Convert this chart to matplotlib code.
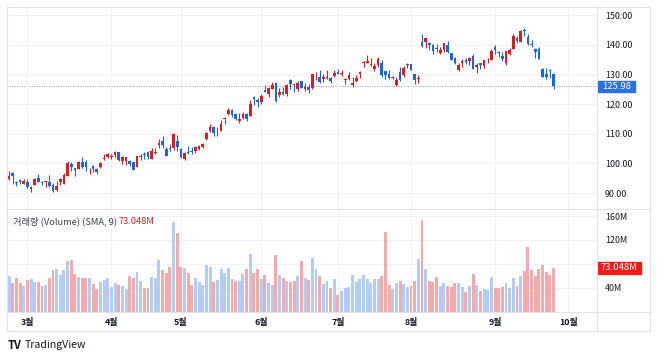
import numpy as np
import pandas as pd
import matplotlib
matplotlib.use("Agg")
import matplotlib.pyplot as plt
from matplotlib.lines import Line2D
from matplotlib.patches import Rectangle
import matplotlib.transforms as mtransforms

plt.rcParams['font.family'] = ['Noto Sans CJK KR', 'DejaVu Sans']

# daily bars, 2023-02-22 .. 2023-09-26 (price, volume in millions)
holidays = ["2023-04-07", "2023-05-29", "2023-06-19", "2023-07-04", "2023-09-04"]

feb_o = [94.66, 96.94, 93.53, 94.28, 93.14]
feb_h = [97.34, 97.01, 94.14, 94.78, 94.69]
feb_l = [94.36, 93.04, 92.32, 93.14, 92.92]
feb_c = [95.79, 95.82, 93.50, 93.76, 94.23]
feb_v = [60, 48, 57, 47, 43]

mar_o = [93.87, 91.41, 92.74, 95.19, 93.72, 93.60, 93.68, 92.67, 90.90, 93.83, 93.22, 95.75,
         99.79, 98.41, 98.14, 100.45, 100.43, 98.07, 99.07, 98.11, 98.69, 101.55, 102.16]
mar_h = [94.68, 92.23, 94.95, 96.55, 94.12, 94.17, 96.21, 93.57, 94.02, 95.07, 96.67, 100.99,
         100.66, 98.48, 100.85, 102.10, 101.06, 98.30, 99.34, 98.44, 100.42, 103.04, 103.49]
mar_l = [91.59, 90.39, 92.66, 93.74, 92.64, 92.18, 92.18, 90.25, 90.60, 92.71, 93.07, 95.61,
         97.46, 95.70, 98.00, 98.61, 97.62, 96.40, 97.08, 96.29, 98.56, 101.01, 101.95]
mar_c = [92.17, 92.13, 94.90, 93.75, 93.55, 93.92, 92.25, 90.73, 92.43, 94.88, 96.20, 100.04,
         98.95, 97.71, 100.61, 98.70, 98.71, 98.13, 98.04, 97.24, 100.25, 102.00, 103.29]
mar_v = [53, 55, 50, 49, 43, 45, 56, 69, 72, 61, 70, 85, 87, 63, 58, 57, 57, 56, 46, 38, 49, 53, 56]

apr_o = [102.30, 102.75, 103.91, 100.75, 100.96, 100.80, 100.40, 98.95, 102.07, 103.16, 103.95,
         101.58, 103.53, 106.10, 107.66, 104.91, 105.04, 105.23, 107.73]
apr_h = [103.29, 104.20, 103.91, 102.38, 102.20, 101.00, 100.51, 102.57, 103.20, 103.73, 104.20,
         105.12, 105.25, 108.15, 109.23, 105.45, 106.62, 110.20, 109.48]
apr_l = [101.43, 102.11, 100.75, 99.80, 99.57, 99.01, 97.71, 98.71, 101.11, 101.59, 101.52,
         101.39, 103.21, 105.08, 105.07, 102.45, 104.10, 104.42, 104.33]
apr_c = [102.41, 103.95, 101.10, 102.06, 102.17, 99.92, 97.83, 102.40, 102.51, 102.74, 102.30,
         104.30, 103.81, 106.96, 106.21, 102.57, 104.98, 109.82, 105.45]
apr_v = [41, 48, 45, 43, 38, 60, 56, 67, 51, 39, 40, 58, 57, 86, 70, 65, 74, 150, 131]

may_o = [104.95, 101.47, 103.74, 104.04, 104.27, 105.04, 105.62, 108.10, 111.03, 112.16, 111.15,
         111.05, 114.89, 116.69, 118.16, 116.77, 114.27, 115.35, 116.63, 116.04, 122.37, 121.45]
may_h = [105.23, 103.90, 105.96, 105.39, 105.76, 106.09, 106.80, 110.67, 113.28, 112.64, 112.29,
         114.79, 115.79, 118.60, 118.31, 117.17, 117.14, 117.34, 116.87, 121.50, 122.92, 122.04]
may_l = [101.82, 101.15, 103.28, 103.31, 103.55, 104.70, 105.17, 108.05, 110.49, 109.32, 109.25,
         111.03, 113.28, 116.34, 115.70, 114.81, 113.78, 115.02, 114.31, 116.02, 119.86, 119.17]
may_c = [102.05, 103.63, 103.65, 104.00, 105.66, 105.83, 106.62, 110.19, 112.18, 110.26, 111.20,
         113.40, 115.50, 118.15, 116.25, 115.01, 114.99, 116.75, 115.00, 120.11, 121.66, 120.58]
may_v = [74, 73, 65, 45, 56, 49, 45, 78, 74, 49, 53, 71, 65, 73, 54, 52, 52, 63, 71, 96, 64, 72]

jun_o = [120.69, 124.92, 123.36, 125.07, 127.01, 123.01, 124.08, 123.40, 128.12, 126.70, 125.21,
         127.71, 124.97, 125.64, 125.31, 129.11, 129.33, 128.63, 128.94, 128.77, 129.39]
jun_h = [123.49, 126.38, 125.80, 127.40, 127.37, 125.63, 125.80, 126.95, 128.41, 126.95, 127.69,
         127.90, 127.25, 126.73, 130.33, 130.84, 131.49, 130.09, 131.48, 129.26, 131.49]
jun_l = [119.93, 124.02, 122.30, 125.00, 120.63, 122.26, 123.19, 122.87, 125.18, 124.12, 124.32,
         125.30, 124.50, 123.85, 125.14, 128.28, 127.10, 127.55, 128.44, 127.26, 129.32]
jun_c = [122.77, 124.25, 125.30, 126.61, 121.23, 124.25, 123.43, 126.57, 126.66, 126.42, 127.11,
         125.49, 125.78, 124.83, 130.15, 129.33, 127.33, 129.18, 129.04, 127.90, 130.36]
jun_v = [54, 61, 47, 45, 95, 62, 56, 51, 50, 52, 60, 84, 56, 53, 90, 71, 59, 46, 52, 40, 54]

jul_o = [130.82, 130.24, 128.25, 128.59, 126.50, 127.75, 130.31, 134.04, 134.06, 133.20, 132.00,
         133.39, 134.07, 131.34, 130.31, 128.90, 126.51, 131.00, 129.69, 133.20]
jul_h = [131.85, 131.40, 128.73, 130.97, 129.28, 129.77, 131.26, 134.67, 136.65, 135.62, 133.86,
         135.99, 134.79, 131.37, 131.66, 129.58, 129.08, 132.63, 133.01, 133.87]
jul_l = [130.07, 129.64, 126.78, 128.13, 125.92, 127.35, 128.83, 132.71, 134.06, 132.90, 131.35,
         132.53, 129.33, 128.42, 128.35, 128.53, 126.11, 127.79, 129.33, 132.38]
jul_c = [130.22, 130.38, 128.36, 129.78, 127.13, 128.78, 130.80, 134.30, 134.68, 133.56, 132.83,
         135.36, 129.96, 130.00, 128.80, 129.13, 128.15, 128.25, 132.21, 133.68]
jul_v = [28, 35, 40, 41, 61, 49, 54, 61, 54, 48, 54, 54, 59, 133, 45, 38, 47, 52, 46, 41]

aug_o = [133.55, 130.15, 128.37, 141.06, 140.99, 140.62, 139.97, 139.07, 137.40, 138.30, 140.05,
         137.19, 135.46, 131.62, 133.74, 135.08, 134.50, 136.40, 132.47, 133.78, 132.98, 134.93, 135.06]
aug_h = [133.69, 130.23, 129.77, 143.63, 142.54, 140.84, 140.32, 140.41, 139.33, 140.59, 141.28,
         137.27, 136.09, 134.07, 135.19, 135.65, 135.95, 136.78, 133.87, 133.95, 135.00, 135.68, 138.79]
aug_l = [131.62, 126.82, 127.00, 139.32, 138.95, 138.42, 137.10, 137.49, 137.00, 137.75, 137.23,
         135.01, 133.53, 131.15, 132.71, 133.73, 133.22, 131.83, 130.58, 131.85, 132.31, 133.92, 135.00]
aug_c = [131.69, 128.21, 128.91, 139.57, 142.22, 139.94, 137.85, 138.56, 138.41, 140.57, 137.67,
         135.07, 133.98, 133.22, 134.68, 134.25, 135.52, 131.84, 133.26, 133.14, 134.91, 135.07, 138.01]
aug_v = [42, 51, 88, 153, 71, 51, 50, 58, 42, 47, 42, 41, 48, 48, 41, 32, 42, 63, 44, 34, 38, 36, 58]

sep_o = [139.46, 137.73, 136.32, 133.90, 136.86, 138.75, 142.32, 140.95, 145.08, 142.69, 140.48,
         138.70, 138.55, 131.94, 130.24, 131.60, 130.12]
sep_h = [139.96, 137.80, 137.45, 138.03, 138.85, 143.62, 143.00, 144.98, 145.86, 143.57, 141.75,
         138.84, 139.37, 132.24, 132.05, 131.78, 130.39]
sep_l = [136.88, 135.82, 134.61, 133.16, 136.75, 138.64, 140.61, 140.87, 142.95, 140.09, 139.22,
         135.56, 135.20, 129.31, 128.54, 128.77, 125.28]
sep_c = [138.12, 137.27, 135.36, 137.85, 138.23, 143.10, 141.23, 144.85, 144.72, 140.39, 139.98,
         137.63, 135.29, 129.33, 129.12, 131.27, 125.98]
sep_v = [40, 40, 41, 48, 39, 56, 42, 60, 68, 108, 70, 60, 72, 78, 66, 62, 73.432]

opens = np.array(feb_o + mar_o + apr_o + may_o + jun_o + jul_o + aug_o + sep_o)
highs = np.array(feb_h + mar_h + apr_h + may_h + jun_h + jul_h + aug_h + sep_h)
lows = np.array(feb_l + mar_l + apr_l + may_l + jun_l + jul_l + aug_l + sep_l)
closes = np.array(feb_c + mar_c + apr_c + may_c + jun_c + jul_c + aug_c + sep_c)
volumes = np.array(feb_v + mar_v + apr_v + may_v + jun_v + jul_v + aug_v + sep_v)

month_labels = ["3월", "4월", "5월", "6월", "7월", "8월", "9월", "10월"]
price_ticks = [90, 100, 110, 120, 130, 140, 150]
vol_ticks = [40, 80, 120, 160]
vol_tick_labels = ["40M", "", "120M", "160M"]   # 80M sits under the SMA badge

# trading calendar (extends past last bar for the 10월 tick)
days = pd.bdate_range("2023-02-22", "2023-10-31")
days = days[~days.isin(pd.to_datetime(holidays))]
month_pos = [int(np.argmax(days.month == m)) for m in range(3, 11)]

x = np.arange(len(closes))
up = closes >= opens
RED, BLUE = "#d51f27", "#1f66d1"
candle_col = np.where(up, RED, BLUE)
vol_col = np.where(up, "#b4ccf4", "#f5a9aa")
sma9 = volumes[-9:].mean()

W, H = 658, 358
fig = plt.figure(figsize=(W / 100, H / 100), dpi=100)
fx = lambda px: px / W
fy = lambda py: 1 - py / H

L, R = 7.3, 597
ax_p = fig.add_axes([fx(L), fy(209), fx(R) - fx(L), fy(7) - fy(209)])
ax_v = fig.add_axes([fx(L), fy(311.5), fx(R) - fx(L), fy(209) - fy(311.5)])

xlim = (-0.5, 160.9)
grid_c = "#f0f2f7"
txt_c = "#131722"
fs = 6.4

# price pane
ax_p.vlines(x, lows, highs, colors=candle_col, lw=0.8, zorder=2)
body_h = np.maximum(np.abs(closes - opens), 0.12)
ax_p.bar(x, body_h, bottom=np.minimum(opens, closes), width=0.72, color=candle_col, lw=0, zorder=3)
ax_p.axhline(closes[-1], color="#8c9bb8", lw=0.7, ls=(0, (1, 1.5)), zorder=1)
ax_p.set_xlim(*xlim)
ax_p.set_ylim(84.63, 152.8)
ax_p.set_yticks(price_ticks)
ax_p.set_yticklabels([f"{t:.2f}" for t in price_ticks])
ax_p.yaxis.tick_right()
ax_p.set_xticks(month_pos)
ax_p.tick_params(axis="x", length=0, labelbottom=False)
ax_p.tick_params(axis="y", length=0, pad=5.8, labelsize=fs, labelcolor=txt_c)
ax_p.grid(True, color=grid_c, lw=0.8, zorder=0)

# volume pane
ax_v.bar(x, volumes, width=0.8, color=vol_col, lw=0, zorder=2)
ax_v.set_xlim(*xlim)
ax_v.set_ylim(0, 172)
ax_v.set_yticks(vol_ticks)
ax_v.set_yticklabels(vol_tick_labels)
ax_v.yaxis.tick_right()
ax_v.set_xticks(month_pos)
ax_v.set_xticklabels(month_labels, fontweight="bold")
ax_v.tick_params(axis="x", length=0, pad=5, labelsize=fs, labelcolor=txt_c)
ax_v.tick_params(axis="y", length=0, pad=5.8, labelsize=fs, labelcolor=txt_c)
ax_v.grid(True, color=grid_c, lw=0.8, zorder=0)

for ax in (ax_p, ax_v):
    for s in ax.spines.values():
        s.set_visible(False)
    ax.set_facecolor("none")

# frame and separators
line_c = "#e0e3eb"
for (x0, y0, x1, y1) in [(7, 7, 650, 7), (7, 331, 650, 331), (7, 7, 7, 331), (650, 7, 650, 331),
                         (7, 209, 650, 209), (7, 311.5, 650, 311.5), (R, 7, R, 331)]:
    fig.add_artist(Line2D([fx(x0), fx(x1)], [fy(y0), fy(y1)], color=line_c, lw=0.8))

# last price badge
tp = mtransforms.blended_transform_factory(fig.transFigure, ax_p.transData)
ph = 11.7 / 2.963
ax_p.add_patch(Rectangle((fx(597.7), closes[-1] - ph / 2), fx(635) - fx(597.7), ph,
                         transform=tp, color="#2a6fe3", clip_on=False, zorder=5))
ax_p.text(fx(616.3), closes[-1], f"{closes[-1]:.2f}", transform=tp, ha="center", va="center",
          color="white", fontsize=fs + 0.4, zorder=6, clip_on=False)

# SMA badge
tv = mtransforms.blended_transform_factory(fig.transFigure, ax_v.transData)
vh = 11.5 / 0.596
ax_v.add_patch(Rectangle((fx(597.7), sma9 - vh / 2), fx(641) - fx(597.7), vh,
                         transform=tv, color="#f01c1c", clip_on=False, zorder=5))
ax_v.text(fx(619.3), sma9, f"{sma9:.3f}M", transform=tv, ha="center", va="center",
          color="white", fontsize=fs + 0.4, zorder=6, clip_on=False)

# legend of the volume pane
fig.text(fx(13), fy(221.5), "거래량 (Volume) (SMA, 9)", fontsize=fs + 0.3, color="#3a3e4a", va="center")
fig.text(fx(118.5), fy(221.5), f"{sma9:.3f}M", fontsize=fs + 0.3, color="#c62828", va="center")

# TradingView mark
fig.text(fx(7.5), fy(345.5), "TV", fontsize=8, fontweight="heavy", color=txt_c, va="center")
fig.text(fx(24.5), fy(345.5), "TradingView", fontsize=7.6, color=txt_c, va="center")

fig.savefig("out.png", dpi=100, facecolor="white")
